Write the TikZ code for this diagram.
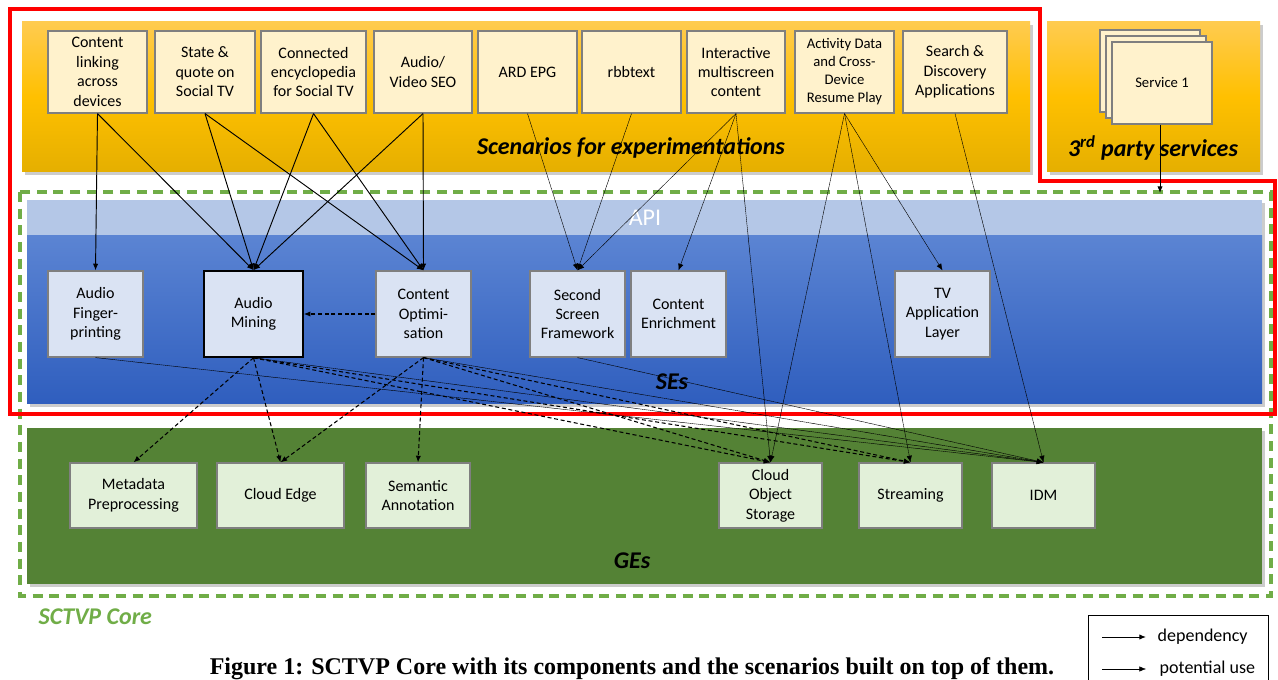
\documentclass[tikz,border=0pt]{standalone}
\usepackage{fontspec}
\setmainfont{Carlito}
\newfontfamily\capfont{Liberation Serif}
\usetikzlibrary{arrows.meta}
\definecolor{scenfill}{HTML}{FFF2CC}
\definecolor{boxline}{HTML}{7F7F7F}
\definecolor{sefill}{HTML}{DAE3F3}
\definecolor{gefill}{HTML}{E2F0D9}
\definecolor{gepanel}{HTML}{548235}
\definecolor{coregreen}{HTML}{70AD47}
\definecolor{apifill}{HTML}{B4C7E7}
\definecolor{bluetop}{HTML}{5B84D3}
\definecolor{bluebot}{HTML}{2F5EBE}
\definecolor{orangetop}{HTML}{FFCB50}
\definecolor{orangemid}{HTML}{FFC000}
\definecolor{orangebot}{HTML}{E5AF00}
\definecolor{redline}{HTML}{FF0000}
\tikzset{
  boxbase/.style={draw=boxline, line width=0.9pt, align=center, inner sep=1pt,
    font=\fontsize{12}{14.6}\selectfont},
  scen/.style={boxbase, fill=scenfill, minimum height=82*0.75pt},
  sebox/.style={boxbase, fill=sefill, minimum height=86*0.75pt, minimum width=95*0.75pt},
  gebox/.style={boxbase, fill=gefill, minimum height=65*0.75pt},
  svcbox/.style={boxbase, fill=scenfill, minimum width=100*0.75pt, minimum height=82*0.75pt,
    font=\fontsize{11}{13}\selectfont},
  paneltitle/.style={font=\fontsize{18}{21}\selectfont\bfseries\itshape},
  dep/.style={-{Latex[length=5pt,width=4pt]}, line width=0.7pt},
  pot/.style={-{Latex[length=5pt,width=4pt]}, line width=0.35pt, dash pattern=on 1.2pt off 0.3pt},
  dsh/.style={-{Latex[length=5pt,width=4pt]}, line width=0.8pt, dash pattern=on 3pt off 2pt},
  shadow/.style={fill=black, opacity=0.2}
}
\begin{document}
\begin{tikzpicture}[x=0.75pt,y=-0.75pt]
\useasboundingbox (0,0) rectangle (1278,680);
\fill[white] (0,0) rectangle (1278,680);

% panels with shadows
\fill[shadow] (25,25) rectangle (1033,175);
\fill[top color=orangetop, bottom color=orangebot, middle color=orangemid] (22,22) rectangle (1030,172);
\fill[shadow] (1050,25) rectangle (1263,175);
\fill[top color=orangetop, bottom color=orangebot, middle color=orangemid] (1047,22) rectangle (1260,172);

\fill[shadow] (30,203) rectangle (1265,407);
\fill[apifill] (27,200) rectangle (1262,236);
\fill[top color=bluetop, bottom color=bluebot] (27,236) rectangle (1262,404);

\fill[shadow] (30,431) rectangle (1265,587);
\fill[gepanel] (27,428) rectangle (1262,584);

% outlines
\draw[coregreen, line width=2.3pt, dash pattern=on 7.5pt off 5pt] (20,192) rectangle (1271,596);
\draw[redline, line width=3.6pt] (10,9) -- (1040,9) -- (1040,181) -- (1275,181) -- (1275,414) -- (10,414) -- cycle;

% panel titles
\node[paneltitle] (tscen) at (631,148) {Scenarios for experimentations};
\node[paneltitle] (tparty) at (1153,148) {3\textsuperscript{rd} party services};
\node[font=\fontsize{18}{21}\selectfont, text=white] (tapi) at (645,218) {API};
\node[paneltitle] (tses) at (672,382) {SEs};
\node[paneltitle] (tges) at (632,561) {GEs};
\node[paneltitle, text=coregreen, anchor=west] (tcore) at (34,617) {SCTVP Core};

% scenario boxes
\node[scen, minimum width=99*0.75pt] (s1) at (97.5,72) {Content\\linking\\across\\devices};
\node[scen, minimum width=100*0.75pt] (s2) at (205,72) {State \&\\quote on\\Social TV};
\node[scen, minimum width=105*0.75pt] (s3) at (313.5,72) {Connected\\encyclopedia\\for Social TV};
\node[scen, minimum width=98*0.75pt] (s4) at (423,72) {Audio/\\Video SEO};
\node[scen, minimum width=99*0.75pt] (s5) at (527.5,72) {ARD EPG};
\node[scen, minimum width=99*0.75pt] (s6) at (631.5,72) {rbbtext};
\node[scen, minimum width=98*0.75pt] (s7) at (736,72) {Interactive\\multiscreen\\content};
\node[scen, minimum width=99*0.75pt, font=\fontsize{11}{13.5}\selectfont] (s8) at (844.5,72) {Activity Data\\and Cross-\\Device\\Resume Play};
\node[scen, minimum width=104*0.75pt] (s9) at (955,72) {Search \&\\Discovery\\Applications};

% third party services
\node[svcbox] (svc3) at (1150,71) {};
\node[svcbox] (svc2) at (1156,77) {};
\node[svcbox] (svc) at (1162,83) {Service 1};
\coordinate (svcend) at (1160,193);

% SE boxes
\node[sebox] (af) at (95.5,314) {Audio\\Finger-\\printing};
\node[sebox, minimum width=99*0.75pt, draw=black, line width=1.2pt] (am) at (253.5,314) {Audio\\Mining};
\node[sebox] (co) at (423.5,314) {Content\\Optimi-\\sation};
\node[sebox] (ss) at (577.5,314) {Second\\Screen\\Framework};
\node[sebox] (ce) at (678.5,314) {Content\\Enrichment};
\node[sebox] (tv) at (942.5,314) {TV\\Application\\Layer};

% GE boxes
\node[gebox, minimum width=127*0.75pt] (mp) at (133.5,495.5) {Metadata\\Preprocessing};
\node[gebox, minimum width=127*0.75pt] (cedge) at (280.5,495.5) {Cloud Edge};
\node[gebox, minimum width=104*0.75pt] (sa) at (418,495.5) {Semantic\\Annotation};
\node[gebox, minimum width=103*0.75pt] (cos) at (770.5,495.5) {Cloud\\Object\\Storage};
\node[gebox, minimum width=103*0.75pt] (st) at (910.5,495.5) {Streaming};
\node[gebox, minimum width=103*0.75pt] (idm) at (1043.5,495.5) {IDM};

% dependencies
\draw[dep] (s1.south) -- (af.north);
\draw[dep] (s1.south) -- (am.north);
\draw[dep] (s2.south) -- (am.north);
\draw[dep] (s2.south) -- (co.north);
\draw[dep] (s3.south) -- (am.north);
\draw[dep] (s3.south) -- (co.north);
\draw[dep] (s4.south) -- (am.north);
\draw[dep] (s4.south) -- (co.north);
\draw[dep] (svc.south -| svcend) -- (svcend);

% potential use
\draw[pot] (s5.south) -- (ss.north);
\draw[pot] (s6.south) -- (ss.north);
\draw[pot] (s7.south) -- (ss.north);
\draw[pot] (s7.south) -- (ce.north);
\draw[pot] (s7.south) -- (cos.north);
\draw[pot] (s8.south) -- (cos.north);
\draw[pot] (s8.south) -- (st.north);
\draw[pot] (s8.south) -- (tv.north);
\draw[pot] (s9.south) -- (idm.north);
\draw[pot] (af.south) -- (idm.north);
\draw[pot] (am.south) -- (idm.north);
\draw[pot] (co.south) -- (idm.north);
\draw[pot] (ss.south) -- (idm.north);

% dashed
\draw[dsh] (co.west) -- (am.east);
\draw[dsh] (am.south) -- (mp.north);
\draw[dsh] (am.south) -- (cedge.north);
\draw[dsh] (co.south) -- (cedge.north);
\draw[dsh] (co.south) -- (sa.north);
\draw[dsh] (am.south) -- (cos.north);
\draw[dsh] (am.south) -- (st.north);
\draw[dsh] (co.south) -- (cos.north);
\draw[dsh] (co.south) -- (st.north);

% legend
\node[draw=black, line width=0.8pt, minimum width=180*0.75pt, minimum height=80*0.75pt, anchor=north west] (leg) at (1088,615) {};
\coordinate (l1a) at (1102,637);
\coordinate (l1b) at (1146,637);
\coordinate (l2a) at (1102,669);
\coordinate (l2b) at (1146,669);
\draw[dep] (l1a) -- (l1b);
\draw[pot] (l2a) -- (l2b);
\node[anchor=west, font=\fontsize{13.5}{16}\selectfont] (ldep) at (1153,637) {dependency};
\node[anchor=west, font=\fontsize{13.5}{16}\selectfont] (lpot) at (1155,669) {potential use};

% caption
\node[anchor=base, font=\capfont\fontsize{18}{21}\selectfont\bfseries] (cap) at (632,674.5) {Figure 1: SCTVP Core with its components and the scenarios built on top of them.};
\end{tikzpicture}
\end{document}
